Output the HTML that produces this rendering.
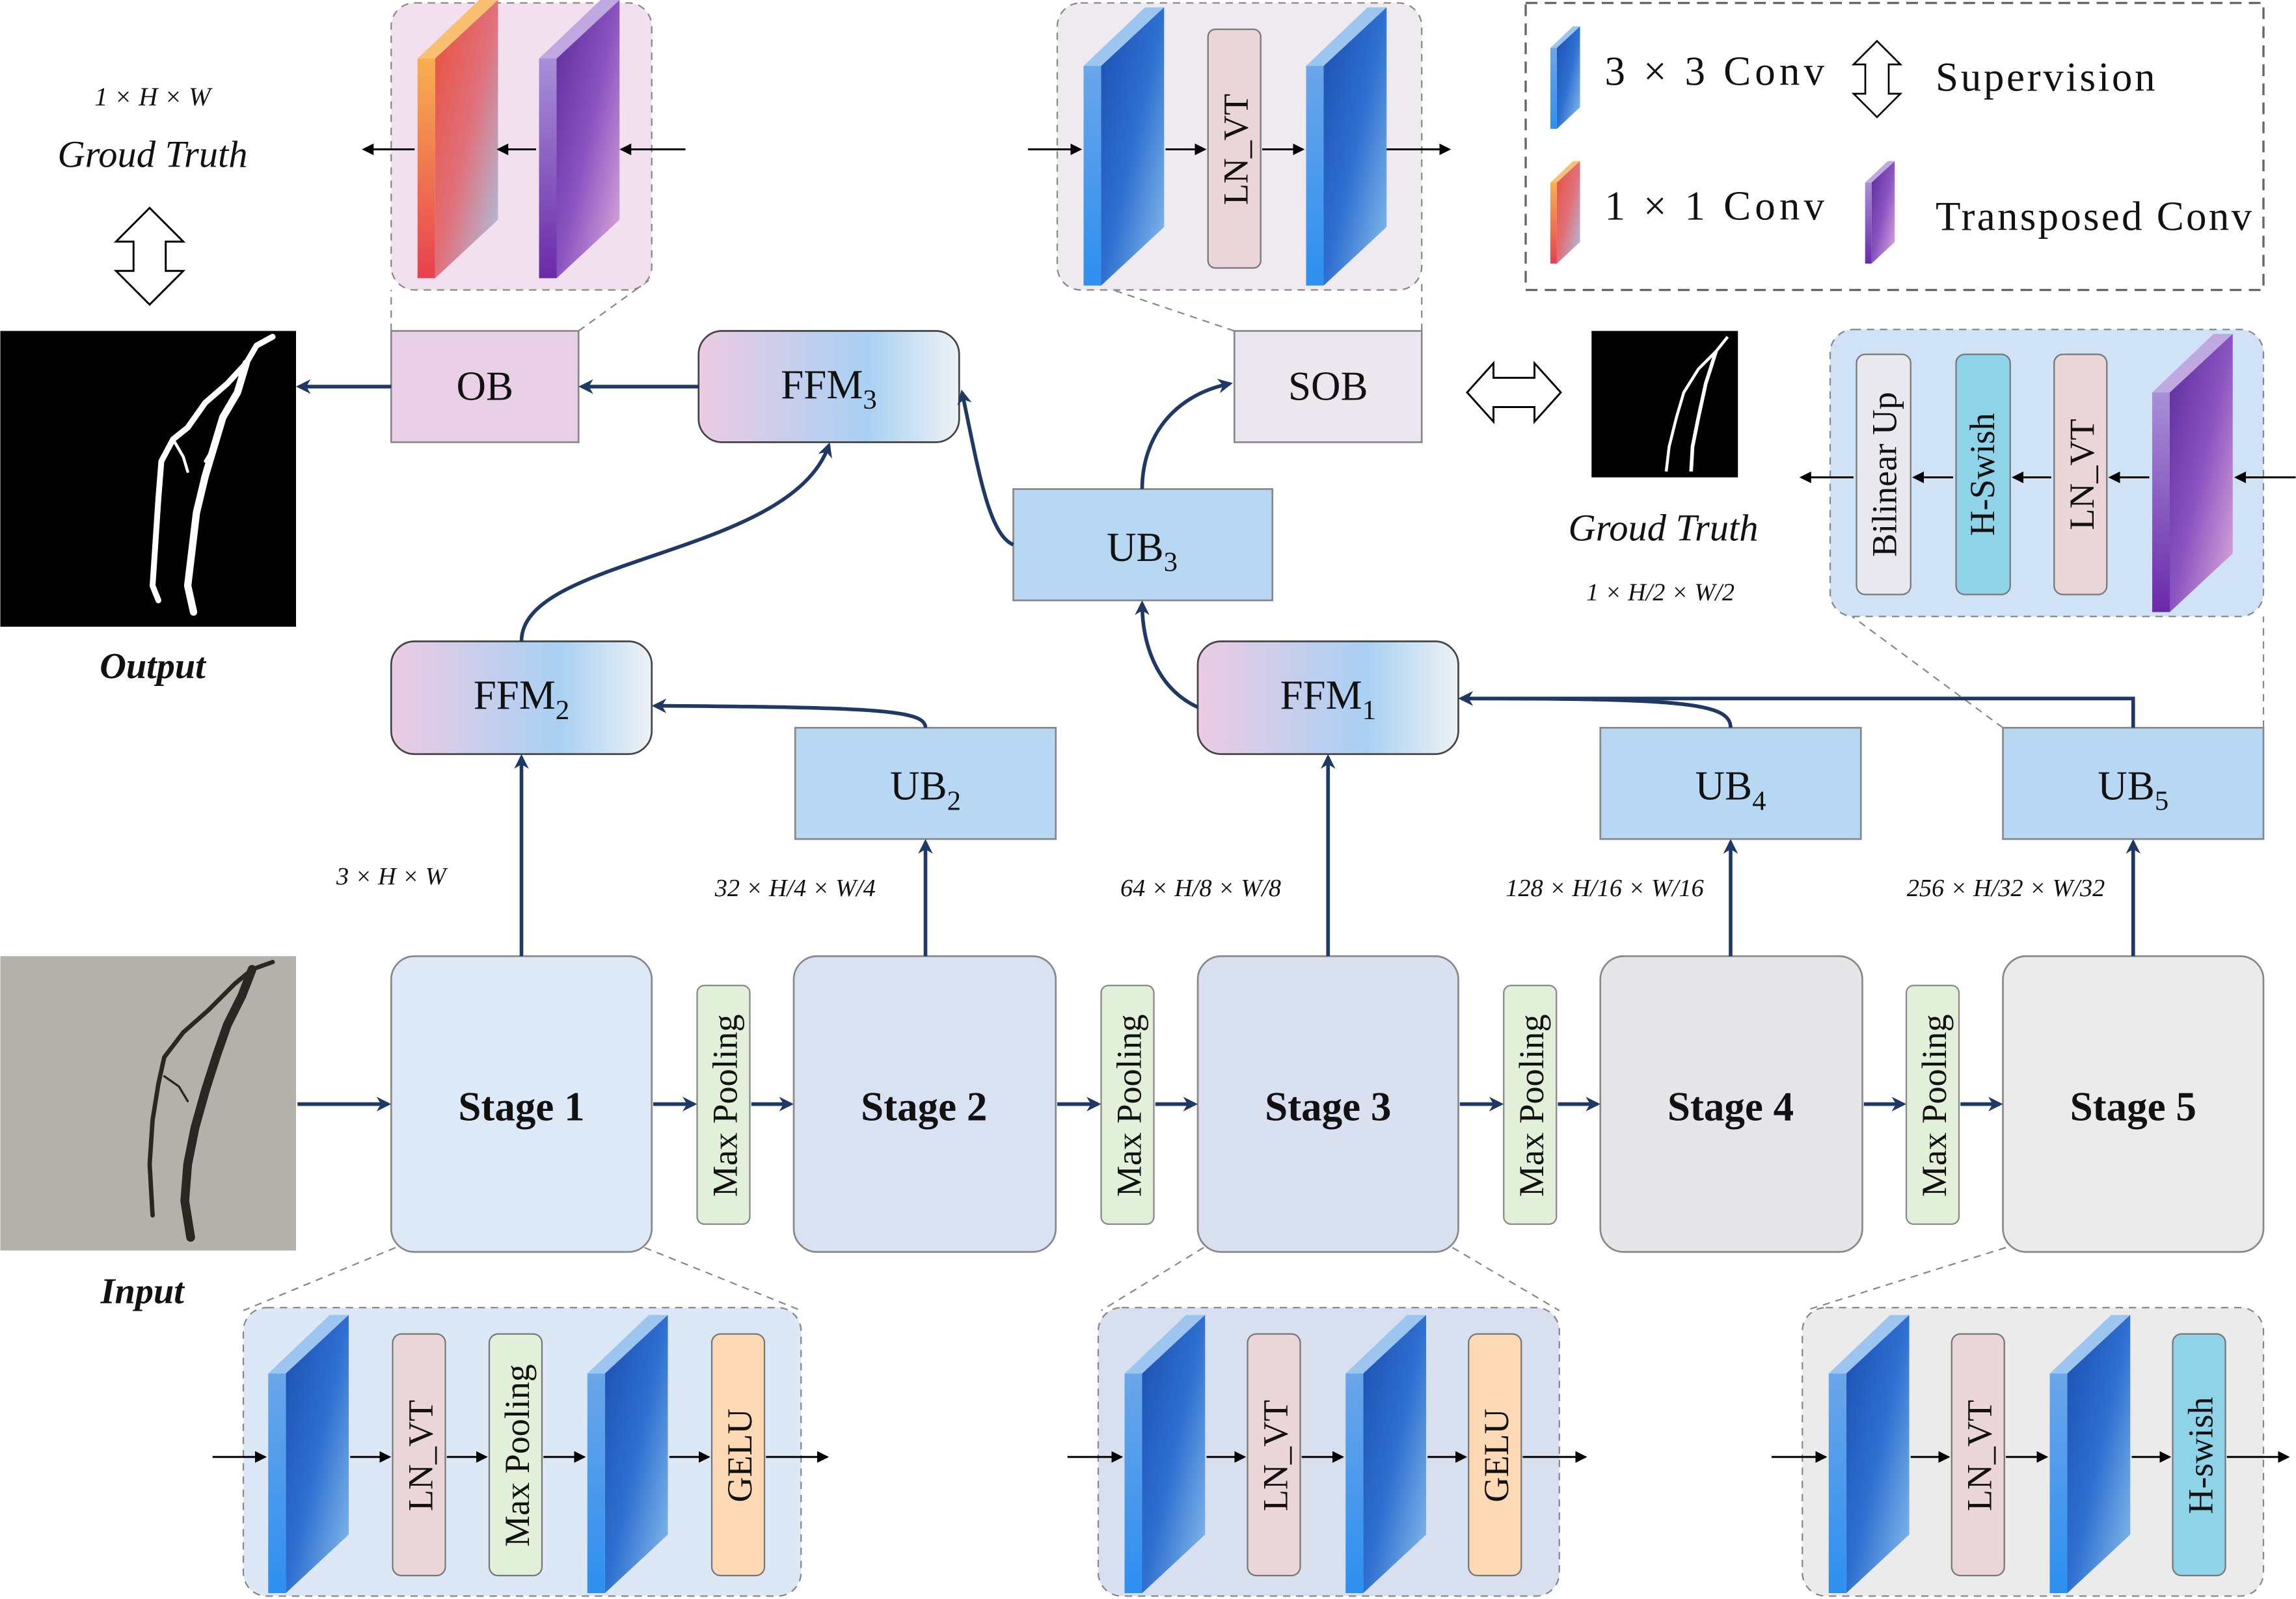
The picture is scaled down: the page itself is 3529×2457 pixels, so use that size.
<!DOCTYPE html>
<html><head><meta charset="utf-8">
<style>
html,body{margin:0;padding:0;background:#fff;}
svg{display:block;}
text{font-family:"Liberation Serif","DejaVu Serif",serif;fill:#111;}
</style></head>
<body>
<svg width="3529" height="2457" viewBox="0 0 1568 1092" xmlns="http://www.w3.org/2000/svg">
<defs>
<linearGradient id="bfront" x1="0" y1="0" x2="1" y2="1">
<stop offset="0" stop-color="#1a4fb0"/><stop offset="0.5" stop-color="#2e6fd0"/><stop offset="1" stop-color="#8fc2ee"/></linearGradient>
<linearGradient id="bside" x1="0" y1="0" x2="0" y2="1"><stop offset="0" stop-color="#6aa6ea"/><stop offset="1" stop-color="#2d8ff0"/></linearGradient>
<linearGradient id="pfront" x1="0" y1="0" x2="1" y2="1">
<stop offset="0" stop-color="#5a2a9a"/><stop offset="0.5" stop-color="#8a54c0"/><stop offset="1" stop-color="#e2b0de"/></linearGradient>
<linearGradient id="pside" x1="0" y1="0" x2="0" y2="1"><stop offset="0" stop-color="#a890d8"/><stop offset="1" stop-color="#6a2aa8"/></linearGradient>
<linearGradient id="ofront" x1="0" y1="0" x2="1" y2="1">
<stop offset="0" stop-color="#e8503a"/><stop offset="0.5" stop-color="#e0707a"/><stop offset="1" stop-color="#a8c8e8"/></linearGradient>
<linearGradient id="oside" x1="0" y1="0" x2="0" y2="1"><stop offset="0" stop-color="#f8b050"/><stop offset="1" stop-color="#e84050"/></linearGradient>
<linearGradient id="ffm" x1="0" y1="0" x2="1" y2="0">
<stop offset="0" stop-color="#eccbe3"/><stop offset="0.65" stop-color="#a9d0f3"/><stop offset="1" stop-color="#eef2f4"/></linearGradient>
<symbol id="bs" viewBox="0 0 55 190" width="55" height="190" overflow="visible">
<polygon points="0,40 42,0 55,0 12,40" fill="#9cc6f0"/>
<polygon points="12,40 55,0 55,150 12,190" fill="url(#bfront)"/>
<polygon points="0,40 12,40 12,190 0,190" fill="url(#bside)"/></symbol>
<symbol id="ps" viewBox="0 0 55 190" width="55" height="190" overflow="visible">
<polygon points="0,40 42,0 55,0 12,40" fill="#c0a8e0"/>
<polygon points="12,40 55,0 55,150 12,190" fill="url(#pfront)"/>
<polygon points="0,40 12,40 12,190 0,190" fill="url(#pside)"/></symbol>
<symbol id="os" viewBox="0 0 55 190" width="55" height="190" overflow="visible">
<polygon points="0,40 42,0 55,0 12,40" fill="#f8c070"/>
<polygon points="12,40 55,0 55,150 12,190" fill="url(#ofront)"/>
<polygon points="0,40 12,40 12,190 0,190" fill="url(#oside)"/></symbol>
<marker id="ah" markerWidth="10" markerHeight="10" refX="8" refY="5" orient="auto" markerUnits="userSpaceOnUse"><path d="M0,0 L10,5 L0,10 L3,5 Z" fill="#1f3864"/></marker>
<marker id="as" markerWidth="8" markerHeight="8" refX="7" refY="4" orient="auto" markerUnits="userSpaceOnUse"><path d="M0,0 L8,4 L0,8 Z" fill="#000"/></marker>
</defs>

<g stroke="#888" stroke-dasharray="5,4" fill="none" stroke-width="1">
<line x1="267" y1="226" x2="267" y2="198"/><line x1="395" y1="226" x2="445" y2="190"/>
<line x1="843" y1="226" x2="760" y2="198"/><line x1="971" y1="226" x2="971" y2="190"/>
<line x1="1368" y1="497" x2="1265" y2="421"/><line x1="1546" y1="497" x2="1546" y2="421"/>
<line x1="270" y1="852" x2="166" y2="895"/><line x1="440" y1="852" x2="547" y2="895"/>
<line x1="822" y1="852" x2="752" y2="895"/><line x1="992" y1="852" x2="1065" y2="895"/>
<line x1="1370" y1="852" x2="1233" y2="895"/>
</g>

<rect x="267" y="2" width="178" height="196" rx="16" fill="#f2e0ee" stroke="#888" stroke-dasharray="5,4"/>
<rect x="722" y="2" width="249" height="196" rx="16" fill="#eeeaf0" stroke="#888" stroke-dasharray="5,4"/>
<rect x="1042" y="2" width="504" height="196" fill="#fff" stroke="#666" stroke-width="1.5" stroke-dasharray="8,5"/>
<rect x="1250" y="225" width="296" height="196" rx="16" fill="#cfe2f6" stroke="#888" stroke-dasharray="5,4"/>
<rect x="166" y="893" width="381" height="197" rx="16" fill="#dce8f5" stroke="#888" stroke-dasharray="5,4"/>
<rect x="750" y="893" width="315" height="197" rx="16" fill="#d8e0f0" stroke="#888" stroke-dasharray="5,4"/>
<rect x="1231" y="893" width="315" height="197" rx="16" fill="#ebebeb" stroke="#888" stroke-dasharray="5,4"/>

<use href="#os" x="285" y="0" width="55" height="190"/>
<use href="#ps" x="368" y="0" width="55" height="190"/>
<g stroke="#000" stroke-width="1.3" marker-end="url(#as)">
<line x1="468" y1="102" x2="424" y2="102"/><line x1="366" y1="102" x2="340" y2="102"/><line x1="283" y1="102" x2="248" y2="102"/></g>

<use href="#bs" x="740" y="5" width="55" height="190"/>
<rect x="825" y="20" width="36" height="163" rx="5" fill="#ead5d8" stroke="#777"/>
<text transform="translate(852,102) rotate(-90)" text-anchor="middle" font-size="24">LN_VT</text>
<use href="#bs" x="892" y="5" width="55" height="190"/>
<g stroke="#000" stroke-width="1.3" marker-end="url(#as)">
<line x1="702" y1="102" x2="738" y2="102"/><line x1="796" y1="102" x2="823" y2="102"/><line x1="862" y1="102" x2="890" y2="102"/><line x1="947" y1="102" x2="990" y2="102"/></g>

<use href="#bs" x="1055" y="18" width="28" height="70"/>
<text x="1096" y="58" font-size="28" textLength="150" lengthAdjust="spacing">3 × 3 Conv</text>
<path d="M1282,28 L1298,44 L1290,44 L1290,64 L1298,64 L1282,80 L1266,64 L1274,64 L1274,44 L1266,44 Z" fill="#fff" stroke="#000" stroke-width="1.2"/>
<text x="1322" y="62" font-size="28" textLength="150" lengthAdjust="spacing">Supervision</text>
<use href="#os" x="1055" y="110" width="28" height="70"/>
<text x="1096" y="150" font-size="28" textLength="150" lengthAdjust="spacing">1 × 1 Conv</text>
<use href="#ps" x="1270" y="110" width="28" height="70"/>
<text x="1322" y="157" font-size="28" textLength="216" lengthAdjust="spacing">Transposed Conv</text>

<rect x="1268" y="242" width="37" height="164" rx="6" fill="#e8e8ee" stroke="#777"/>
<text transform="translate(1295,324) rotate(-90)" text-anchor="middle" font-size="24">Bilinear Up</text>
<rect x="1336" y="242" width="37" height="164" rx="6" fill="#8fd3e8" stroke="#777"/>
<text transform="translate(1362,324) rotate(-90)" text-anchor="middle" font-size="24">H-Swish</text>
<rect x="1403" y="242" width="36" height="164" rx="6" fill="#ead5d8" stroke="#777"/>
<text transform="translate(1430,324) rotate(-90)" text-anchor="middle" font-size="24">LN_VT</text>
<use href="#ps" x="1470" y="228" width="55" height="190"/>
<g stroke="#000" stroke-width="1.3" marker-end="url(#as)">
<line x1="1568" y1="326" x2="1527" y2="326"/><line x1="1468" y1="326" x2="1441" y2="326"/><line x1="1401" y1="326" x2="1375" y2="326"/><line x1="1334" y1="326" x2="1307" y2="326"/><line x1="1266" y1="326" x2="1230" y2="326"/></g>

<use href="#bs" x="183" y="898" width="55" height="190"/>
<rect x="268" y="911" width="36" height="165" rx="6" fill="#ead5d8" stroke="#777"/>
<text transform="translate(295,994) rotate(-90)" text-anchor="middle" font-size="24">LN_VT</text>
<rect x="334" y="911" width="36" height="165" rx="6" fill="#e2efd9" stroke="#777"/>
<text transform="translate(361,994) rotate(-90)" text-anchor="middle" font-size="24">Max Pooling</text>
<use href="#bs" x="401" y="898" width="55" height="190"/>
<rect x="486" y="911" width="36" height="165" rx="6" fill="#fdd9b5" stroke="#777"/>
<text transform="translate(513,994) rotate(-90)" text-anchor="middle" font-size="24">GELU</text>
<g stroke="#000" stroke-width="1.3" marker-end="url(#as)">
<line x1="145" y1="995" x2="181" y2="995"/><line x1="239" y1="995" x2="266" y2="995"/><line x1="305" y1="995" x2="332" y2="995"/><line x1="371" y1="995" x2="399" y2="995"/><line x1="457" y1="995" x2="484" y2="995"/><line x1="523" y1="995" x2="565" y2="995"/></g>

<use href="#bs" x="768" y="898" width="55" height="190"/>
<rect x="852" y="911" width="36" height="165" rx="6" fill="#ead5d8" stroke="#777"/>
<text transform="translate(879,994) rotate(-90)" text-anchor="middle" font-size="24">LN_VT</text>
<use href="#bs" x="919" y="898" width="55" height="190"/>
<rect x="1003" y="911" width="36" height="165" rx="6" fill="#fdd9b5" stroke="#777"/>
<text transform="translate(1030,994) rotate(-90)" text-anchor="middle" font-size="24">GELU</text>
<g stroke="#000" stroke-width="1.3" marker-end="url(#as)">
<line x1="729" y1="995" x2="766" y2="995"/><line x1="824" y1="995" x2="850" y2="995"/><line x1="889" y1="995" x2="917" y2="995"/><line x1="975" y1="995" x2="1001" y2="995"/><line x1="1040" y1="995" x2="1083" y2="995"/></g>

<use href="#bs" x="1249" y="898" width="55" height="190"/>
<rect x="1333" y="911" width="36" height="165" rx="6" fill="#ead5d8" stroke="#777"/>
<text transform="translate(1360,994) rotate(-90)" text-anchor="middle" font-size="24">LN_VT</text>
<use href="#bs" x="1400" y="898" width="55" height="190"/>
<rect x="1484" y="911" width="36" height="165" rx="6" fill="#8fd3e8" stroke="#777"/>
<text transform="translate(1511,994) rotate(-90)" text-anchor="middle" font-size="24">H-swish</text>
<g stroke="#000" stroke-width="1.3" marker-end="url(#as)">
<line x1="1210" y1="995" x2="1247" y2="995"/><line x1="1305" y1="995" x2="1331" y2="995"/><line x1="1370" y1="995" x2="1398" y2="995"/><line x1="1456" y1="995" x2="1482" y2="995"/><line x1="1521" y1="995" x2="1563" y2="995"/></g>

<rect x="0" y="226" width="202" height="202" fill="#000"/>
<g stroke="#fff" fill="none" stroke-linecap="round" stroke-linejoin="round">
<path d="M186,230 L175,236 L168,248 L155,262 L140,275 L128,292 L118,300 L110,315 L108,340 L106,370 L104,400 L108,410" stroke-width="4"/>
<path d="M168,248 L162,268 L152,285 L146,305 L140,325 L134,350 L131,375 L128,400 L132,418" stroke-width="5"/>
<path d="M118,300 L125,312 L128,322" stroke-width="2"/>
<path d="M146,305 L140,315" stroke-width="2"/>
</g>
<rect x="1087" y="226" width="100" height="100" fill="#000"/>
<g stroke="#fff" fill="none" stroke-width="2">
<path d="M1180,230 L1172,240 L1160,252 L1150,268 L1145,285 L1140,305 L1138,322"/>
<path d="M1172,240 L1165,262 L1160,285 L1156,305 L1155,322" stroke-width="2.5"/></g>
<rect x="0" y="653" width="202" height="201" fill="#b4b0aa"/>
<g stroke="#2a2624" fill="none" stroke-linecap="round" stroke-linejoin="round">
<path d="M186,657 L172,662 L160,672 L142,690 L125,705 L112,722 L108,740 L104,765 L102,795 L104,830" stroke-width="3"/>
<path d="M172,662 L165,680 L155,700 L148,720 L140,745 L133,770 L128,795 L126,820 L130,845" stroke-width="6"/>
<path d="M112,735 L122,742 L128,752" stroke-width="1.5"/></g>

<text x="104" y="72" text-anchor="middle" font-size="18" font-style="italic">1 × H × W</text>
<text x="104" y="114" text-anchor="middle" font-size="26" font-style="italic">Groud Truth</text>
<path d="M102,142 L125,165 L113,165 L113,185 L125,185 L102,208 L79,185 L91,185 L91,165 L79,165 Z" fill="#fff" stroke="#000" stroke-width="1.3"/>
<text x="104" y="463" text-anchor="middle" font-size="25" font-weight="bold" font-style="italic">Output</text>
<text x="97" y="890" text-anchor="middle" font-size="25" font-weight="bold" font-style="italic">Input</text>
<text x="1136" y="369" text-anchor="middle" font-size="26" font-style="italic">Groud Truth</text>
<text x="1134" y="410" text-anchor="middle" font-size="17" font-style="italic">1 × H/2 × W/2</text>
<path d="M1002,268 L1020,248 L1020,258 L1048,258 L1048,248 L1066,268 L1048,288 L1048,278 L1020,278 L1020,288 Z" fill="#fff" stroke="#000" stroke-width="1.3"/>

<g stroke="#888" stroke-width="1.2">
<rect x="267" y="653" width="178" height="202" rx="16" fill="#dde9f6"/>
<rect x="542" y="653" width="179" height="202" rx="16" fill="#d9e2f2"/>
<rect x="818" y="653" width="178" height="202" rx="16" fill="#d9e1f1"/>
<rect x="1093" y="653" width="179" height="202" rx="16" fill="#e6e6e8"/>
<rect x="1368" y="653" width="178" height="202" rx="16" fill="#ebebeb"/>
</g>
<g font-size="28" font-weight="bold" text-anchor="middle">
<text x="356" y="765">Stage 1</text><text x="631" y="765">Stage 2</text><text x="907" y="765">Stage 3</text><text x="1182" y="765">Stage 4</text><text x="1457" y="765">Stage 5</text></g>
<g stroke="#888">
<rect x="476" y="673" width="36" height="163" rx="5" fill="#e2efd9"/>
<rect x="752" y="673" width="36" height="163" rx="5" fill="#e2efd9"/>
<rect x="1027" y="673" width="36" height="163" rx="5" fill="#e2efd9"/>
<rect x="1302" y="673" width="36" height="163" rx="5" fill="#e2efd9"/></g>
<g font-size="24" text-anchor="middle">
<text transform="translate(503,755) rotate(-90)">Max Pooling</text>
<text transform="translate(779,755) rotate(-90)">Max Pooling</text>
<text transform="translate(1054,755) rotate(-90)">Max Pooling</text>
<text transform="translate(1329,755) rotate(-90)">Max Pooling</text></g>

<g stroke="#888" stroke-width="1.2">
<rect x="543" y="497" width="178" height="76" fill="#b8d7f3"/>
<rect x="1093" y="497" width="178" height="76" fill="#b8d7f3"/>
<rect x="1368" y="497" width="178" height="76" fill="#b8d7f3"/>
<rect x="692" y="334" width="177" height="76" fill="#b8d7f3"/>
<rect x="267" y="438" width="178" height="77" rx="16" fill="url(#ffm)" stroke="#444"/>
<rect x="818" y="438" width="178" height="77" rx="16" fill="url(#ffm)" stroke="#444"/>
<rect x="477" y="226" width="178" height="76" rx="16" fill="url(#ffm)" stroke="#444"/>
<rect x="267" y="226" width="128" height="76" fill="#ead0e6"/>
<rect x="843" y="226" width="128" height="76" fill="#ece6ee"/>
</g>
<g font-size="28" text-anchor="middle">
<text x="632" y="546">UB<tspan font-size="19" dy="7">2</tspan></text>
<text x="1182" y="546">UB<tspan font-size="19" dy="7">4</tspan></text>
<text x="1457" y="546">UB<tspan font-size="19" dy="7">5</tspan></text>
<text x="780" y="383">UB<tspan font-size="19" dy="7">3</tspan></text>
<text x="356" y="484">FFM<tspan font-size="19" dy="7">2</tspan></text>
<text x="907" y="484">FFM<tspan font-size="19" dy="7">1</tspan></text>
<text x="566" y="272">FFM<tspan font-size="19" dy="7">3</tspan></text>
<text x="331" y="273">OB</text>
<text x="907" y="273">SOB</text></g>

<g font-size="17" font-style="italic" text-anchor="middle">
<text x="267" y="604">3 × H × W</text>
<text x="543" y="612">32 × H/4 × W/4</text>
<text x="820" y="612">64 × H/8 × W/8</text>
<text x="1096" y="612">128 × H/16 × W/16</text>
<text x="1370" y="612">256 × H/32 × W/32</text></g>

<g stroke="#1f3864" stroke-width="2.5" fill="none" marker-end="url(#ah)">
<line x1="203" y1="754" x2="265" y2="754"/>
<line x1="446" y1="754" x2="474" y2="754"/><line x1="513" y1="754" x2="540" y2="754"/>
<line x1="722" y1="754" x2="750" y2="754"/><line x1="789" y1="754" x2="816" y2="754"/>
<line x1="997" y1="754" x2="1025" y2="754"/><line x1="1064" y1="754" x2="1091" y2="754"/>
<line x1="1273" y1="754" x2="1300" y2="754"/><line x1="1339" y1="754" x2="1366" y2="754"/>
<line x1="356" y1="653" x2="356" y2="517"/>
<line x1="632" y1="653" x2="632" y2="575"/>
<line x1="907" y1="653" x2="907" y2="517"/>
<line x1="1182" y1="653" x2="1182" y2="575"/>
<line x1="1457" y1="653" x2="1457" y2="575"/>
<path d="M632,497 C632,485 600,483 447,482"/>
<path d="M1182,497 C1182,480 1150,477 998,477"/>
<path d="M1457,497 L1457,477 L998,477"/>
<path d="M818,483 C790,470 780,440 780,412"/>
<path d="M356,438 C356,380 540,380 566,304"/>
<path d="M692,372 C675,365 668,320 657,268"/>
<path d="M780,334 C780,300 800,270 840,262"/>
<line x1="477" y1="264" x2="397" y2="264"/>
<line x1="267" y1="264" x2="204" y2="264"/>
</g>
</svg>
</body></html>
